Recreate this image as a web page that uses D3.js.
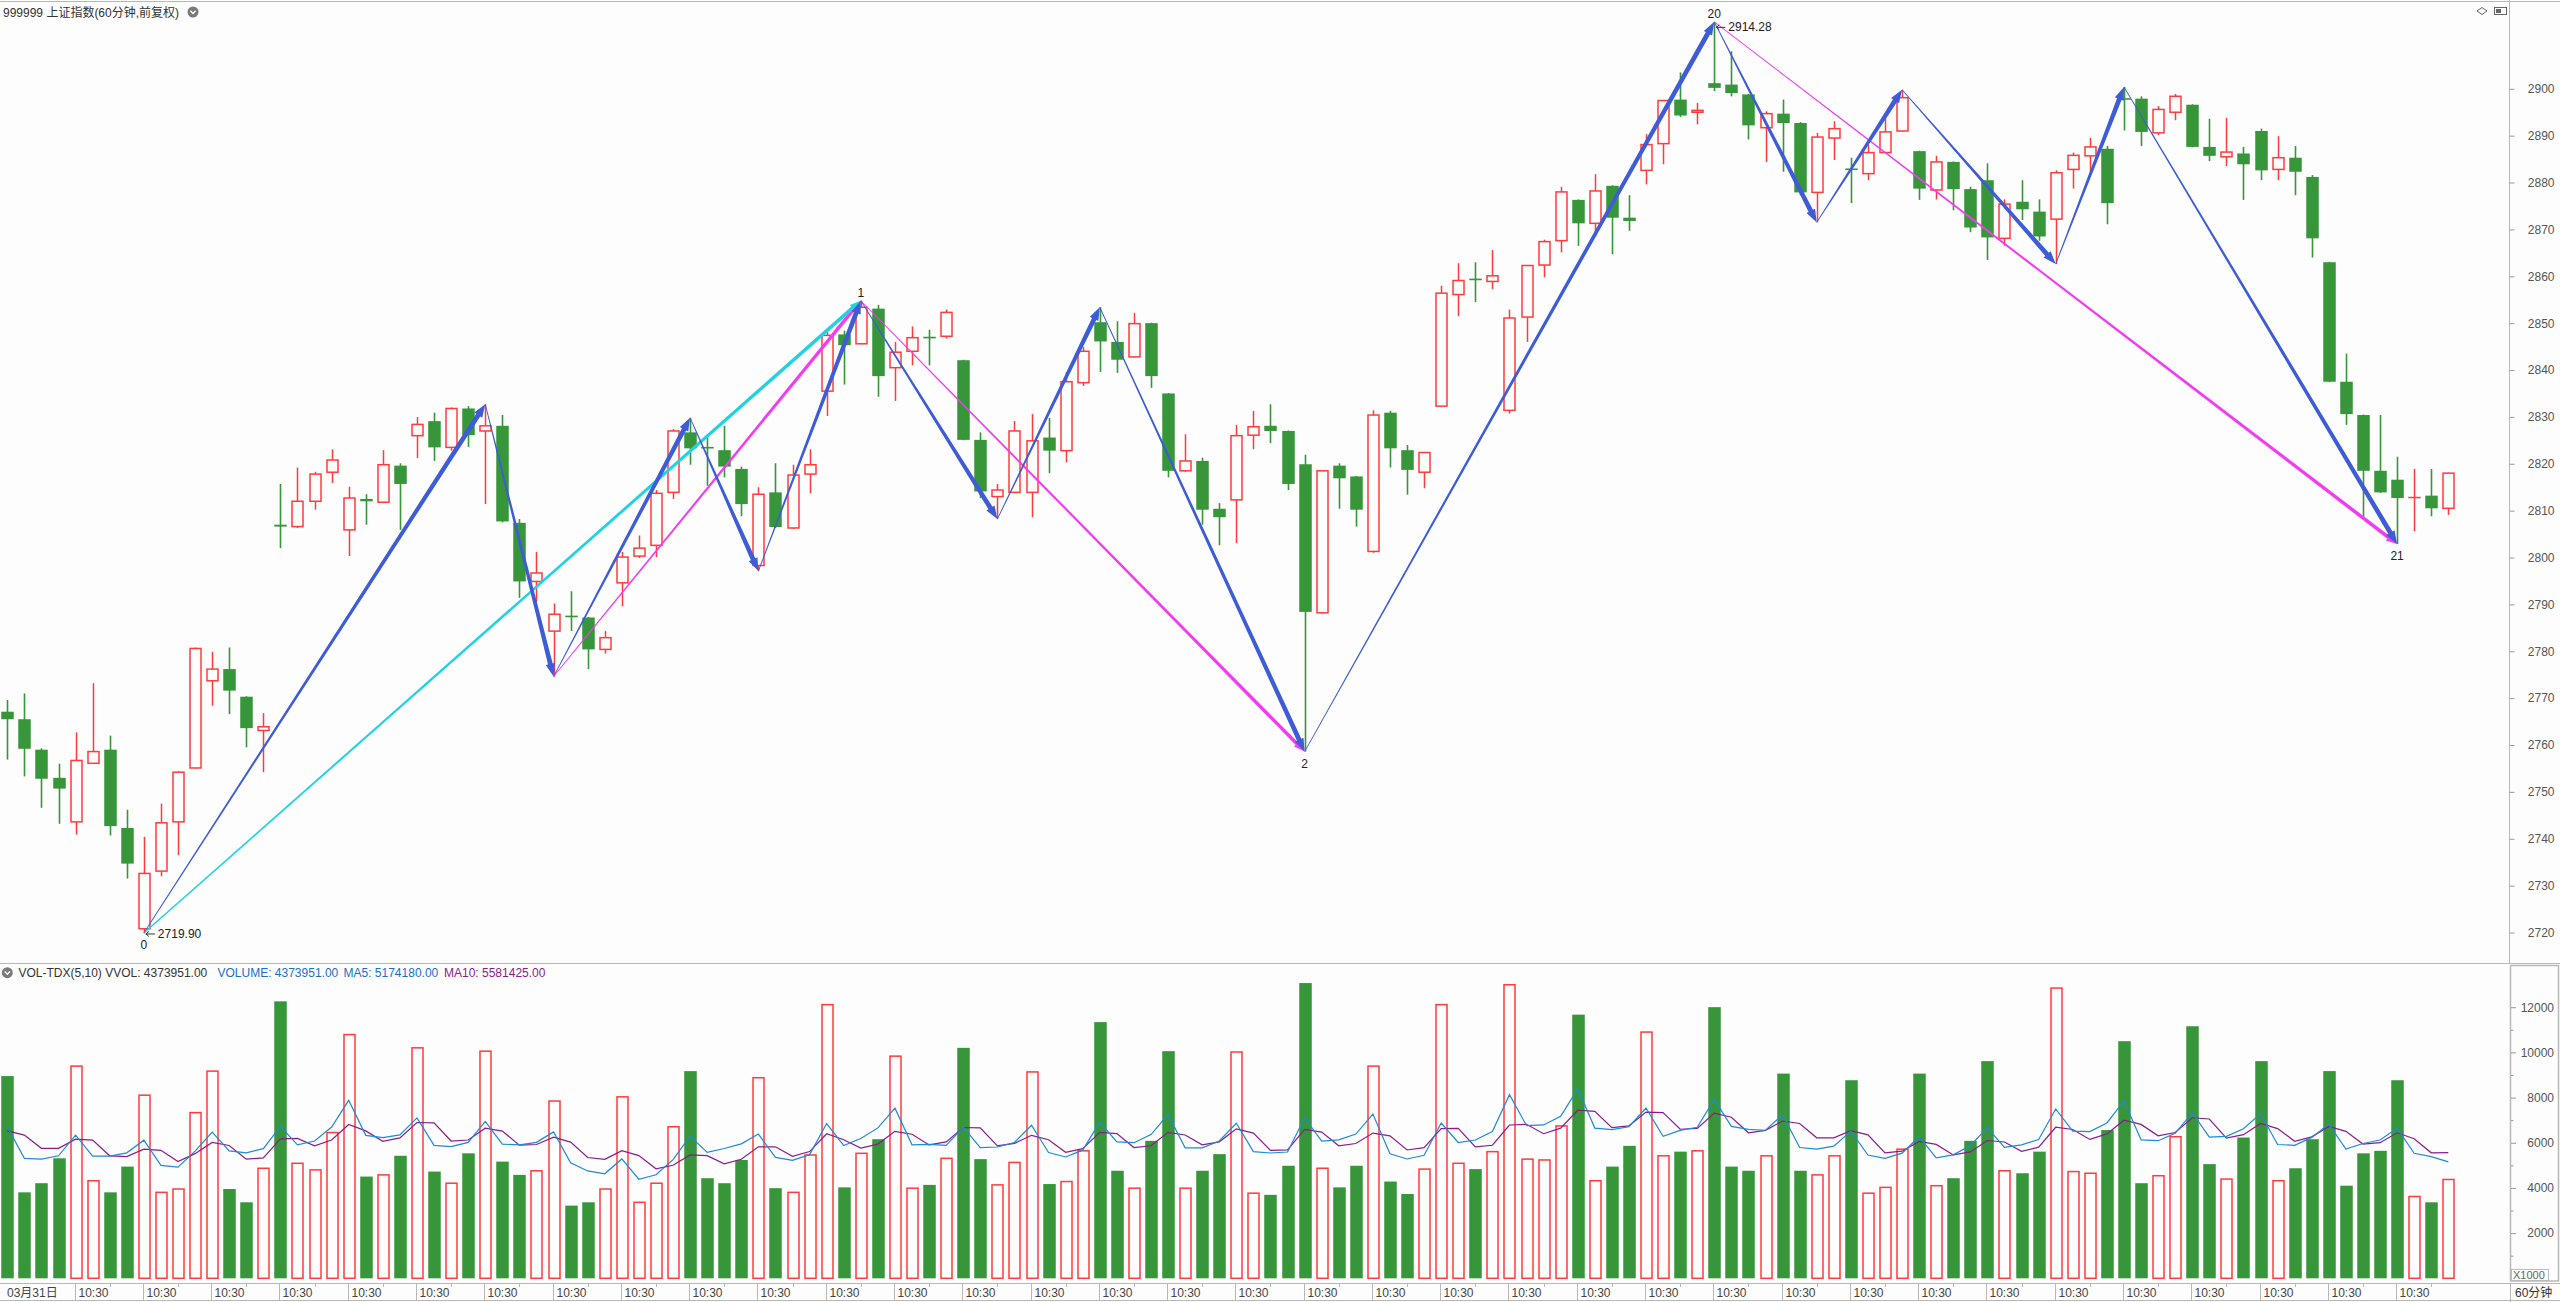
<!DOCTYPE html>
<html><head><meta charset="utf-8">
<script src="https://cdn.jsdelivr.net/npm/d3@7"></script>
<style>
html,body{margin:0;padding:0;background:#fdfdfd;}
svg{display:block;}
text{font-family:"Liberation Sans","Noto Sans CJK SC",sans-serif;}
</style></head><body>
<svg id="c" width="2560" height="1302"></svg>
<script>
// ---------- data ----------
const opens=[2767.1,2765.5,2759.0,2753.0,2743.6,2756.1,2759.0,2742.3,2720.8,2733.1,
2743.6,2755.1,2773.7,2776.2,2770.3,2763.1,2807.0,2806.6,2812.0,2818.2,
2805.9,2812.5,2811.8,2819.6,2826.0,2829.1,2823.5,2831.8,2827.0,2828.1,
2807.4,2794.9,2784.3,2787.6,2787.2,2780.4,2794.6,2800.3,2802.6,2813.9,
2826.7,2823.6,2822.9,2818.9,2798.3,2813.9,2806.3,2817.8,2835.5,2847.6,
2845.6,2853.1,2840.5,2844.0,2847.1,2847.2,2842.1,2825.1,2813.0,2813.9,
2813.9,2825.6,2822.8,2837.3,2850.2,2846.0,2842.8,2850.0,2835.0,2818.5,
2820.6,2810.4,2812.3,2826.1,2828.1,2827.0,2819.9,2788.2,2819.6,2817.3,
2801.3,2830.9,2822.9,2818.2,2832.3,2856.1,2859.5,2858.9,2831.4,2851.3,
2862.4,2867.6,2876.3,2871.3,2879.3,2872.5,2882.6,2888.3,2897.7,2895.0,
2901.2,2900.9,2898.8,2891.7,2894.7,2892.7,2877.9,2889.5,2883.0,2881.9,
2886.4,2891.0,2886.7,2878.4,2884.4,2878.6,2880.5,2868.1,2875.9,2873.8,
2872.2,2882.8,2885.7,2887.2,2898.0,2897.9,2890.6,2895.0,2896.6,2887.6,
2885.5,2886.2,2891.0,2882.8,2885.3,2881.2,2863.0,2837.5,2830.4,2818.5,
2816.6,2812.8,2813.2,2810.5];
const highs=[2769.6,2771.0,2759.3,2756.0,2762.7,2773.2,2762.0,2746.2,2740.4,2747.5,
2754.4,2780.8,2779.9,2780.8,2770.4,2766.8,2815.7,2819.2,2818.3,2823.1,
2815.1,2813.5,2822.9,2820.1,2830.0,2830.9,2832.0,2832.3,2832.7,2830.4,
2808.2,2801.2,2790.2,2792.8,2787.3,2784.3,2801.2,2804.7,2814.4,2827.4,
2829.8,2825.6,2828.1,2819.4,2815.0,2820.1,2819.8,2823.1,2848.1,2848.4,
2854.8,2853.9,2846.0,2849.3,2848.6,2852.9,2842.2,2826.7,2815.7,2829.1,
2830.6,2829.8,2839.6,2844.9,2853.4,2850.4,2852.2,2850.1,2835.1,2826.3,
2821.3,2811.6,2828.3,2831.3,2832.7,2827.1,2821.9,2818.6,2820.1,2817.4,
2831.4,2831.3,2824.0,2822.5,2858.0,2862.8,2863.0,2865.6,2852.9,2862.4,
2867.8,2879.1,2876.4,2881.8,2879.4,2877.3,2890.3,2897.6,2903.5,2897.0,
2914.28,2908.0,2898.9,2895.2,2897.7,2892.9,2890.6,2893.1,2885.3,2888.0,
2893.8,2899.8,2886.8,2885.7,2884.5,2879.1,2884.1,2876.4,2880.5,2876.4,
2882.6,2886.4,2889.5,2887.8,2900.4,2898.4,2896.3,2898.9,2896.7,2893.6,
2893.8,2887.6,2891.5,2889.9,2887.8,2881.6,2863.1,2843.5,2830.5,2830.4,
2821.5,2818.9,2818.9,2818.1];
const lows=[2756.9,2753.3,2746.6,2743.2,2740.9,2756.0,2740.7,2731.5,2719.9,2732.0,
2736.5,2755.0,2768.4,2766.6,2759.5,2754.2,2802.0,2806.3,2810.2,2815.9,
2800.3,2807.0,2811.6,2805.9,2821.2,2820.6,2822.8,2823.6,2811.4,2807.5,
2791.4,2790.5,2774.6,2784.3,2776.2,2779.5,2789.6,2799.9,2800.1,2812.5,
2819.8,2815.3,2817.1,2808.8,2797.1,2806.3,2806.1,2813.7,2830.2,2836.9,
2845.5,2834.3,2833.4,2841.0,2841.0,2846.7,2825.0,2812.7,2808.2,2813.8,
2808.6,2818.0,2820.3,2836.6,2839.6,2839.4,2842.7,2836.2,2817.1,2818.2,
2807.0,2802.6,2803.1,2823.1,2824.4,2814.4,2758.6,2788.1,2810.4,2806.6,
2801.0,2819.2,2813.4,2814.8,2832.2,2851.5,2854.5,2857.3,2830.7,2846.0,
2859.8,2865.1,2866.5,2868.5,2864.7,2869.7,2879.6,2883.9,2894.0,2892.4,
2899.5,2898.4,2889.2,2884.4,2882.3,2877.3,2871.5,2884.8,2875.6,2880.5,
2886.3,2890.9,2876.3,2876.4,2874.1,2869.4,2863.5,2866.5,2872.0,2867.6,
2862.6,2878.7,2882.3,2871.1,2891.1,2887.8,2890.1,2893.3,2887.5,2884.6,
2883.5,2876.3,2880.5,2880.5,2877.3,2864.0,2837.4,2828.3,2808.2,2813.8,
2802.9,2805.6,2808.8,2809.1];
const closes=[2765.5,2759.2,2752.8,2750.7,2756.7,2758.6,2742.7,2734.7,2732.6,2743.4,
2754.2,2780.6,2776.2,2771.6,2763.6,2763.9,2806.6,2812.0,2817.8,2820.8,
2812.7,2812.0,2819.8,2815.7,2828.4,2823.5,2831.8,2826.1,2828.1,2807.7,
2794.9,2796.7,2787.9,2787.4,2780.4,2782.9,2800.1,2802.0,2813.7,2827.0,
2823.3,2823.4,2819.4,2811.4,2813.5,2806.5,2817.6,2819.8,2847.4,2845.3,
2853.4,2838.7,2843.8,2846.9,2846.9,2852.3,2825.1,2814.1,2814.4,2827.0,
2824.9,2822.8,2837.5,2844.0,2846.1,2842.2,2849.9,2838.7,2818.5,2820.6,
2810.2,2808.6,2826.0,2827.9,2827.0,2815.7,2788.4,2818.5,2816.9,2810.2,
2830.4,2823.3,2818.7,2822.4,2856.4,2859.1,2859.3,2860.1,2851.1,2862.3,
2867.4,2878.0,2871.3,2878.2,2872.5,2871.8,2888.1,2897.5,2894.3,2895.4,
2900.2,2899.1,2892.2,2894.7,2892.7,2877.9,2889.7,2891.5,2882.7,2886.4,
2890.8,2898.1,2878.7,2884.4,2878.6,2870.4,2868.3,2875.4,2874.3,2868.5,
2882.1,2885.8,2887.6,2875.6,2897.8,2890.8,2895.6,2898.4,2887.6,2885.7,
2886.5,2883.9,2882.6,2885.3,2882.3,2868.1,2837.5,2830.6,2818.5,2813.9,
2812.7,2812.8,2810.5,2818.0];
// volume in units of 1000
const volumes=[8951,3805,4209,5312,9392,4319,3805,4944,8106,3805,
3952,7333,9171,3952,3364,4871,12259,5091,4797,6451,
10789,4503,4577,5422,10201,4724,4209,5532,10054,5165,
4577,4760,7848,3217,3364,3952,8032,3364,4209,6708,
9171,4430,4209,5238,8878,3989,3805,5459,12113,4025,
5532,6157,9833,3989,4135,5312,10201,5275,4135,5128,
9135,4172,4283,5643,11340,4760,3989,6084,10054,3989,
4760,5496,10017,3768,3694,4981,13068,4871,4025,4981,
9392,4283,3731,4834,12113,5091,4834,5606,12994,5275,
5238,6745,11671,4319,4944,5863,10899,5422,5606,5643,
12002,4944,4760,5422,9061,4760,4577,5422,8767,3768,
4025,5716,9061,4099,4430,6084,9613,4760,4650,5606,
12848,4724,4650,6562,10495,4209,4540,6268,11156,5054,
4393,6231,9613,4319,4871,6157,9171,4099,5532,5643,
8767,3621,3364,4374];
// MA values at the left edge (windows reach before the visible bars)
const ma5Head=[6709,5312,5275,5422];
const ma10Head=[6525,6341,5753,5753,6157,6120,5422,5385,5716];
const priceTicks=[2720,2730,2740,2750,2760,2770,2780,2790,2800,2810,2820,2830,2840,2850,2860,2870,2880,2890,2900];
const volTicks=[2000,4000,6000,8000,10000,12000];
const firstDateLabel="03月31日";
const dayStartLabel="10:30";
const dayStarts=[4,8,12,16,20,24,28,32,36,40,44,48,52,56,60,64,68,72,76,80,84,88,92,96,100,104,108,112,116,120,124,128,132,136,140];
// zigzag pivots: [candle index, 'H' or 'L']
const blueZig=[[8,'L'],[28,'H'],[32,'L'],[40,'H'],[44,'L'],[50,'H'],[58,'L'],[64,'H'],[76,'L'],[100,'H'],[106,'L'],[111,'H'],[120,'L'],[124,'H'],[140,'L']];
const magentaSegs=[[[32,'L'],[50,'H']],[[50,'H'],[76,'L']],[[100,'H'],[140,'L']]];
const cyanSegs=[[[8,'L'],[50,'H']]];
const pivotLabels=[[8,'L','0'],[50,'H','1'],[76,'L','2'],[100,'H','20'],[140,'L','21']];
const priceNotes=[[8,'L','2719.90'],[100,'H','2914.28']];

// ---------- scales ----------
const N=opens.length;
const x=d3.scaleLinear().domain([0,N-1]).range([7.3,7.3+(N-1)*17.07]);
const y=d3.scaleLinear().domain([2720,2900]).range([932.5,88.8]);
const yv=d3.scaleLinear().domain([0,12000]).range([1278.3,1007.2]);

const RED="#ff3b3b", GREEN="#37963a", FRAME="#b8b8b8";
const svg=d3.select("#c");
svg.append("rect").attr("width",2560).attr("height",1302).attr("fill","#fdfdfd");

// frames
svg.append("line").attr("x1",0).attr("x2",2560).attr("y1",1.5).attr("y2",1.5).attr("stroke",FRAME);
svg.append("line").attr("x1",2509.5).attr("x2",2509.5).attr("y1",0).attr("y2",963).attr("stroke",FRAME);
svg.append("line").attr("x1",0).attr("x2",2560).attr("y1",963.5).attr("y2",963.5).attr("stroke",FRAME);
svg.append("rect").attr("x",2510.5).attr("y",965.5).attr("width",48).attr("height",315.5).attr("fill","none").attr("stroke",FRAME).attr("stroke-width",1.5);
svg.append("line").attr("x1",0).attr("x2",2560).attr("y1",1283.5).attr("y2",1283.5).attr("stroke",FRAME);
svg.append("line").attr("x1",0).attr("x2",2560).attr("y1",1300.5).attr("y2",1300.5).attr("stroke",FRAME);
svg.append("line").attr("x1",2510.5).attr("x2",2510.5).attr("y1",1283).attr("y2",1302).attr("stroke",FRAME);

// header
svg.append("text").attr("x",3).attr("y",16.5).attr("font-size",12).attr("fill","#333").text("999999 上证指数(60分钟,前复权)");
function chevIcon(cx,cy){
  svg.append("circle").attr("cx",cx).attr("cy",cy).attr("r",5.5).attr("fill","#7a7a7a");
  svg.append("path").attr("d",`M${cx-2.6},${cy-1.2}L${cx},${cy+1.5}L${cx+2.6},${cy-1.2}`).attr("fill","none").attr("stroke","#fff").attr("stroke-width",1.4);
}
chevIcon(193,12);
// top-right icons
svg.append("path").attr("d","M2477,11L2482,7.5L2487,11L2482,14.5Z").attr("fill","none").attr("stroke","#666");
svg.append("rect").attr("x",2494.5).attr("y",7.5).attr("width",12).attr("height",7).attr("fill","none").attr("stroke","#666");
svg.append("rect").attr("x",2496).attr("y",9).attr("width",5).attr("height",4).attr("fill","#666");

// ---------- candles ----------
const bw=12.5;
const cg=svg.append("g");
for(let i=0;i<N;i++){
  const o=opens[i],c=closes[i],h=highs[i],l=lows[i];
  const cx=Math.round(x(i))+0.5;
  const up=c>=o;
  const yt=y(Math.max(o,c)), yb=y(Math.min(o,c));
  if(up){
    cg.append("line").attr("x1",cx).attr("x2",cx).attr("y1",y(h)).attr("y2",yt).attr("stroke",RED).attr("stroke-width",1.5);
    cg.append("line").attr("x1",cx).attr("x2",cx).attr("y1",yb).attr("y2",y(l)).attr("stroke",RED).attr("stroke-width",1.5);
    if(yb-yt<1){
      cg.append("line").attr("x1",cx-bw/2).attr("x2",cx+bw/2).attr("y1",yt).attr("y2",yt).attr("stroke",RED).attr("stroke-width",1.5);
    } else {
      cg.append("rect").attr("x",cx-bw/2+0.75).attr("y",yt).attr("width",bw-1.5).attr("height",yb-yt).attr("fill","#fdfdfd").attr("stroke",RED).attr("stroke-width",1.5);
    }
  } else {
    cg.append("line").attr("x1",cx).attr("x2",cx).attr("y1",y(h)).attr("y2",y(l)).attr("stroke",GREEN).attr("stroke-width",1.6);
    cg.append("rect").attr("x",cx-bw/2).attr("y",yt).attr("width",bw).attr("height",Math.max(1.6,yb-yt)).attr("fill",GREEN);
  }
}

// ---------- volume ----------
const vg=svg.append("g");
for(let i=0;i<N;i++){
  const cx=Math.round(x(i))+0.5;
  const up=closes[i]>=opens[i];
  const yt=yv(volumes[i]), yb=yv(0);
  if(up){
    vg.append("rect").attr("x",cx-bw/2+0.75).attr("y",yt).attr("width",bw-1.5).attr("height",yb-yt).attr("fill","#fdfdfd").attr("stroke",RED).attr("stroke-width",1.5);
  } else {
    vg.append("rect").attr("x",cx-bw/2).attr("y",yt).attr("width",bw).attr("height",yb-yt).attr("fill",GREEN);
  }
}
function ma(n,head){return volumes.map((v,i)=> i<head.length ? head[i] : d3.mean(volumes.slice(i-n+1,i+1)));}
const lineGen=d3.line().x((d,i)=>x(i)).y(d=>yv(d));
svg.append("path").attr("d",lineGen(ma(10,ma10Head))).attr("fill","none").attr("stroke","#8b1c8b").attr("stroke-width",1.2);
svg.append("path").attr("d",lineGen(ma(5,ma5Head))).attr("fill","none").attr("stroke","#1e8ad8").attr("stroke-width",1.2);

// volume header
chevIcon(7.3,972.7);
svg.append("text").attr("x",18.5).attr("y",977).attr("font-size",12).attr("fill","#333").text("VOL-TDX(5,10) VVOL: 4373951.00");
svg.append("text").attr("x",217.5).attr("y",977).attr("font-size",12).attr("fill","#1a6fcc").text("VOLUME: 4373951.00");
svg.append("text").attr("x",343.5).attr("y",977).attr("font-size",12).attr("fill","#1a6fcc").text("MA5: 5174180.00");
svg.append("text").attr("x",444).attr("y",977).attr("font-size",12).attr("fill","#8b1c8b").text("MA10: 5581425.00");

// ---------- zigzag arrows ----------
function pt(p){return [x(p[0]), y(p[1]==='H'?highs[p[0]]:lows[p[0]])];}
function arrowPath(a,b,w0,w1,hl,hw){
  const [x0,y0]=a,[x1,y1]=b;
  const dx=x1-x0,dy=y1-y0,L=Math.hypot(dx,dy),ux=dx/L,uy=dy/L,nx=-uy,ny=ux;
  const sx=x1-ux*hl, sy=y1-uy*hl;
  const p=d3.path();
  p.moveTo(x0+nx*w0/2,y0+ny*w0/2);
  p.lineTo(sx+nx*w1/2,sy+ny*w1/2);
  p.lineTo(sx+nx*hw/2,sy+ny*hw/2);
  p.lineTo(x1,y1);
  p.lineTo(sx-nx*hw/2,sy-ny*hw/2);
  p.lineTo(sx-nx*w1/2,sy-ny*w1/2);
  p.lineTo(x0-nx*w0/2,y0-ny*w0/2);
  p.closePath();
  return p.toString();
}
const zg=svg.append("g");
magentaSegs.forEach(s=>zg.append("path").attr("d",arrowPath(pt(s[0]),pt(s[1]),0.8,3.6,11,8)).attr("fill","#f23cf2"));
cyanSegs.forEach(s=>zg.append("path").attr("d",arrowPath(pt(s[0]),pt(s[1]),1.4,3.6,11,8)).attr("fill","#22d2e2"));
for(let k=0;k<blueZig.length-1;k++){
  zg.append("path").attr("d",arrowPath(pt(blueZig[k]),pt(blueZig[k+1]),0.8,4.8,13,9.5)).attr("fill","#3d5cd6");
}

// pivot labels
pivotLabels.forEach(([i,t,s])=>{
  const [px,py]=pt([i,t]);
  svg.append("text").attr("x",px).attr("y",t==='H'?py-4:py+16).attr("text-anchor","middle").attr("font-size",12).attr("fill","#222").text(s);
});
priceNotes.forEach(([i,t,s])=>{
  const [px,py]=pt([i,t]);
  const ty=t==='H'?py+9.5:py+5;
  svg.append("path").attr("d",`M${px+2},${ty-4}L${px+11},${ty-4}M${px+2},${ty-4}L${px+5},${ty-6.5}M${px+2},${ty-4}L${px+5},${ty-1.5}`).attr("stroke","#333").attr("fill","none").attr("stroke-width",1);
  svg.append("text").attr("x",px+14).attr("y",ty).attr("font-size",12).attr("fill","#222").text(s);
});

// ---------- right axes ----------
const ay=svg.append("g").attr("transform","translate(2509.5,0)")
  .call(d3.axisRight(y).tickValues(priceTicks).tickSize(5).tickFormat(d3.format("d")));
ay.select(".domain").remove();
ay.selectAll(".tick line").attr("stroke","#999");
ay.selectAll(".tick text").attr("x",45).attr("text-anchor","end").attr("fill","#555").attr("font-size",12).attr("font-family","Liberation Sans");

const av=svg.append("g").attr("transform","translate(2511,0)")
  .call(d3.axisRight(yv).tickValues(volTicks).tickSize(5).tickFormat(d3.format("d")));
av.select(".domain").remove();
av.selectAll(".tick line").attr("stroke","#999");
av.selectAll(".tick text").attr("x",43).attr("text-anchor","end").attr("fill","#555").attr("font-size",12).attr("font-family","Liberation Sans");
const avm=svg.append("g").attr("transform","translate(2511,0)")
  .call(d3.axisRight(yv).tickValues(volTicks.map(v=>v-1000)).tickSize(2.5).tickFormat(""));
avm.select(".domain").remove();
avm.selectAll(".tick line").attr("stroke","#999");
svg.append("rect").attr("x",2511.5).attr("y",1269.5).attr("width",37).attr("height",11).attr("fill","#fdfdfd").attr("stroke","#bbb");
svg.append("text").attr("x",2513).attr("y",1279).attr("font-size",11).attr("fill","#666").text("X1000");

// ---------- bottom time axis ----------
const tg=svg.append("g");
tg.append("text").attr("x",7).attr("y",1297).attr("font-size",12).attr("fill","#444").text(firstDateLabel);
dayStarts.forEach(i=>{
  const tx=Math.round(x(i)-1)+0.5;
  tg.append("line").attr("x1",tx).attr("x2",tx).attr("y1",1284).attr("y2",1300).attr("stroke",FRAME);
  tg.append("text").attr("x",tx+3).attr("y",1297).attr("font-size",12).attr("fill","#444").text(dayStartLabel);
  const mi=i+2; if(mi<N){const mx=Math.round(x(mi))+0.5;
    tg.append("line").attr("x1",mx).attr("x2",mx).attr("y1",1284).attr("y2",1287).attr("stroke",FRAME);}
});
svg.append("text").attr("x",2515).attr("y",1297).attr("font-size",12).attr("fill","#333").text("60分钟");
</script>
</body></html>
